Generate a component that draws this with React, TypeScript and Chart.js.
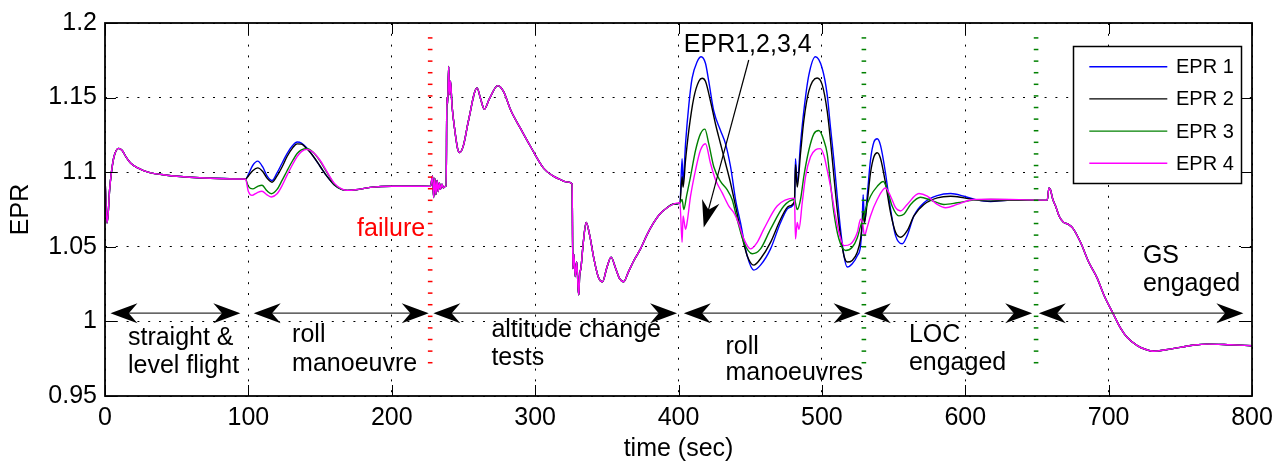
import React, { useEffect, useRef } from 'react';
import { Chart, registerables } from 'chart.js';

Chart.register(...registerables);

const FONT = "'Liberation Sans', Arial, Helvetica, sans-serif";

const xTicks = [0, 100, 200, 300, 400, 500, 600, 700, 800];
const yTicks = [0.95, 1, 1.05, 1.1, 1.15, 1.2];
const yTickLabels = ['0.95', '1', '1.05', '1.1', '1.15', '1.2'];

const seriesNames = ['EPR 1', 'EPR 2', 'EPR 3', 'EPR 4'];
const seriesColors = ['#0000ff', '#000000', '#008000', '#ff00ff'];

type P = [number, number];

// common to all engines: 0–98 s
const commonStart: P[] = [
  [0, 1.098], [0.6, 1.08], [1.4, 1.066], [2.2, 1.072], [3.2, 1.088], [4.5, 1.1], [6.3, 1.1105],
  [9.5, 1.116], [12, 1.1145], [14.5, 1.1105], [18, 1.106], [22.5, 1.103], [30, 1.1], [43, 1.098],
  [66, 1.0963], [96, 1.0954],
];

// first roll manoeuvre
const epr1Roll1: P[] = [
  [98, 1.0953], [100, 1.0985], [103, 1.1045], [106.5, 1.1074], [110, 1.1035], [113, 1.0975],
  [116.5, 1.0944], [120, 1.0995], [123.5, 1.106], [127, 1.1125], [131, 1.118], [134, 1.1202],
  [137, 1.1195], [141, 1.116], [145, 1.111], [150, 1.104], [155, 1.097], [160, 1.0915],
  [165, 1.0885], [169, 1.0878],
];
const epr2Roll1: P[] = [
  [98, 1.0953], [100, 1.0975], [103, 1.101], [106.5, 1.1029], [110, 1.1005], [113, 1.096],
  [116.5, 1.0933], [120, 1.0975], [123.5, 1.1035], [127, 1.1105], [131, 1.1165], [134, 1.119],
  [137, 1.1188], [141, 1.1155], [145, 1.111], [150, 1.104], [155, 1.097], [160, 1.0915],
  [165, 1.0885], [169, 1.0878],
];
const epr3Roll1: P[] = [
  [98, 1.0953], [100, 1.0905], [103, 1.0888], [106.5, 1.0905], [109.5, 1.0913], [113, 1.0875],
  [116, 1.0856], [120, 1.0885], [123.5, 1.0945], [127, 1.101], [131, 1.108], [134, 1.1125],
  [137, 1.115], [141, 1.1157], [145, 1.1135], [150, 1.1075], [155, 1.0995], [160, 1.092],
  [165, 1.0885], [169, 1.0878],
];
const epr4Roll1: P[] = [
  [98, 1.0953], [100, 1.087], [102.5, 1.0845], [106, 1.0862], [109.5, 1.0872], [113, 1.0848],
  [116, 1.0834], [120, 1.0855], [123.5, 1.091], [127, 1.098], [131, 1.1055], [134, 1.1105],
  [137, 1.1138], [141, 1.1153], [145, 1.1135], [150, 1.108], [155, 1.1], [160, 1.0925],
  [165, 1.0888], [169, 1.0878],
];
const rollSettle: P[] = [[175, 1.0882], [185, 1.0898], [200, 1.0906], [215, 1.0906]];

// failure and altitude change tests (common)
const commonAltitude: P[] = [
  [227, 1.0905], [228.5, 1.0975], [229.2, 1.083], [230, 1.096], [230.8, 1.085], [231.6, 1.0945],
  [232.4, 1.087], [233.2, 1.093], [234, 1.0885], [235, 1.092], [236, 1.0895], [237.3, 1.0905],
  [238, 1.0905], [238.4, 1.15], [239, 1.146], [239.7, 1.1708], [240.3, 1.152], [241, 1.161],
  [242, 1.145], [244, 1.128], [246, 1.1155], [247.4, 1.1131], [250, 1.118], [253.5, 1.1345],
  [259.5, 1.1565], [262, 1.149], [264.6, 1.1422], [268, 1.149], [274, 1.158], [278, 1.154],
  [283, 1.1415], [290, 1.129], [297, 1.1169], [306, 1.1026], [313, 1.0972], [318, 1.0949],
  [322, 1.0935], [325.8, 1.0922], [326.3, 1.0354], [327, 1.045], [328, 1.03], [329, 1.04],
  [330, 1.022], [330.5, 1.0178], [331, 1.03], [332, 1.036], [333.5, 1.052], [335.6, 1.0663],
  [338, 1.058], [341, 1.042], [344, 1.03], [347, 1.0266], [350, 1.036], [353, 1.0431],
  [356, 1.036], [359, 1.0285], [361.8, 1.0266], [365, 1.033], [369, 1.041], [373.5, 1.0486],
  [378, 1.058], [382.8, 1.0663], [387, 1.072], [392, 1.0762], [396, 1.0785],
];

// roll manoeuvres
const epr1Roll2: P[] = [
  [401, 1.0795], [402.5, 1.109], [403.2, 1.0927], [404.9, 1.119], [407.2, 1.145], [409.5, 1.163],
  [413, 1.174], [415.8, 1.1774], [418.8, 1.173], [421.1, 1.161], [424.6, 1.141], [429.3, 1.128],
  [432.8, 1.119], [436.3, 1.1037], [439.8, 1.0817], [443.2, 1.0663], [447.9, 1.044],
  [452.5, 1.0344], [457.2, 1.0377], [464.2, 1.0486], [471.2, 1.0663], [477, 1.0762],
  [480.9, 1.08], [481.6, 1.109], [482.8, 1.0927], [485.1, 1.119], [487.4, 1.141], [490.9, 1.165],
  [495.5, 1.1774], [500.2, 1.1697], [503.7, 1.152], [506, 1.13], [508.4, 1.108], [510.7, 1.0839],
  [513, 1.0618], [515.4, 1.044], [517.7, 1.0365], [521.2, 1.0387], [524.7, 1.044], [527, 1.0509],
];
const epr2Roll2: P[] = [
  [401, 1.0795], [402.5, 1.097], [403.2, 1.09], [404.9, 1.108], [407.2, 1.128], [410.7, 1.15],
  [414.2, 1.161], [416.5, 1.163], [418.8, 1.161], [422.3, 1.1477], [425.8, 1.1323],
  [429.3, 1.1191], [432.8, 1.106], [436.3, 1.0927], [439.8, 1.0773], [443.2, 1.0618],
  [447.9, 1.044], [452.5, 1.0377], [457.2, 1.042], [464.2, 1.053], [471.2, 1.0685], [477, 1.0773],
  [480.9, 1.0806], [481.6, 1.105], [482.8, 1.09], [485.1, 1.1125], [487.4, 1.1345],
  [490.9, 1.1543], [496.7, 1.1631], [500.2, 1.1587], [503.7, 1.1411], [506, 1.1213],
  [508.4, 1.0971], [510.7, 1.075], [513, 1.0574], [515.4, 1.044], [517.7, 1.0398],
  [521.2, 1.0409], [524.7, 1.0464], [527, 1.0553],
];
const epr3Roll2: P[] = [
  [401, 1.0795], [402.5, 1.0817], [403.7, 1.075], [405.6, 1.0839], [408.4, 1.0971],
  [411.9, 1.1147], [415.3, 1.1257], [418.4, 1.1289], [421.1, 1.1191], [424.6, 1.1037],
  [429.3, 1.0938], [433.9, 1.0883], [437.4, 1.0817], [440.9, 1.0685], [445.6, 1.053],
  [451.4, 1.0453], [457.2, 1.0486], [464.2, 1.0618], [473.5, 1.0773], [480.9, 1.0817],
  [482.8, 1.075], [485.1, 1.0817], [487.4, 1.0971], [490.9, 1.1147], [494.4, 1.1257],
  [497.9, 1.1279], [501.4, 1.1213], [503.7, 1.1125], [506, 1.0927], [508.4, 1.0728],
  [511.9, 1.0552], [516.5, 1.0475], [521.2, 1.0497], [524.7, 1.056], [527, 1.064],
];
const epr4Roll2: P[] = [
  [401, 1.0795], [402.5, 1.053], [403.2, 1.0707], [404.9, 1.0618], [406, 1.0663],
  [408.4, 1.0839], [411.9, 1.1015], [415.3, 1.1147], [418.8, 1.1191], [422.3, 1.106],
  [425.8, 1.0949], [430.5, 1.0861], [435.1, 1.0773], [438.6, 1.0728], [442.1, 1.0652],
  [445.6, 1.0552], [450.2, 1.0486], [454.9, 1.053], [459.5, 1.0618], [468.8, 1.0773],
  [480.9, 1.0826], [481.6, 1.0552], [482.8, 1.0663], [484, 1.0618], [486.3, 1.0795],
  [488.6, 1.0971], [492.1, 1.1103], [495.5, 1.115], [499, 1.1158], [501.5, 1.111],
  [503.7, 1.1015], [506, 1.0905], [509.5, 1.0707], [511.9, 1.0596], [515.4, 1.0508],
  [520, 1.0519], [524.7, 1.0596], [527, 1.0685],
];

// LOC engaged
const epr1Loc: P[] = [
  [528.1, 1.0663], [528.8, 1.085], [529.7, 1.0663], [531.6, 1.0839], [533.9, 1.1081],
  [536.3, 1.1202], [538.6, 1.1224], [540.9, 1.118], [544.4, 1.0993], [547.9, 1.0751],
  [551.4, 1.0575], [556, 1.052], [559.5, 1.0575], [564.2, 1.0707], [571.2, 1.0795],
  [580.5, 1.0843], [589.8, 1.0857], [599.1, 1.0839], [608.4, 1.0813], [617.7, 1.0804],
  [629.3, 1.0811], [657.2, 1.0813],
];
const epr2Loc: P[] = [
  [528.1, 1.065], [528.8, 1.073], [529.7, 1.0663], [531.6, 1.0795], [533.9, 1.0993],
  [536.3, 1.1103], [538.6, 1.113], [540.9, 1.1092], [544.4, 1.0927], [547.9, 1.0729],
  [551.4, 1.0597], [554.9, 1.0564], [559.5, 1.0608], [564.2, 1.0707], [571.2, 1.0784],
  [580.5, 1.0828], [589.8, 1.0839], [599.1, 1.0828], [608.4, 1.0813], [617.7, 1.0806],
  [629.3, 1.0811], [657.2, 1.0813],
];
const epr3Loc: P[] = [
  [528.4, 1.068], [529.7, 1.072], [530.4, 1.0751], [533.9, 1.0839], [538.6, 1.0905],
  [542.8, 1.0938], [545.6, 1.0883], [549, 1.0773], [553.7, 1.0707], [557.2, 1.0718],
  [561.9, 1.0784], [568.8, 1.0832], [575.8, 1.0813], [585.1, 1.0784], [594.4, 1.0795],
  [606, 1.0813], [617.7, 1.0817], [657.2, 1.0813],
];
const epr4Loc: P[] = [
  [528.4, 1.066], [529.7, 1.0575], [531.6, 1.063], [533.9, 1.0707], [538.6, 1.0817],
  [544.4, 1.0894], [547.9, 1.0839], [551.4, 1.0762], [554.9, 1.074], [559.5, 1.0784],
  [567.7, 1.0857], [573.5, 1.0839], [580.5, 1.0784], [586.3, 1.0762], [594.4, 1.0784],
  [606, 1.0817], [617.7, 1.0819], [657.2, 1.0813],
];

// GS engaged (common)
const commonEnd: P[] = [
  [658.4, 1.0895], [659.5, 1.088], [661, 1.082], [663, 1.0773], [665.5, 1.0705], [668.5, 1.0665],
  [672, 1.065], [675, 1.0625], [680.4, 1.053], [686, 1.04], [692, 1.029], [697, 1.017],
  [703, 1.0055], [708, 0.996], [713, 0.9892], [720, 0.9838], [725, 0.9815], [731.6, 0.98],
  [740, 0.981], [750, 0.9826], [760, 0.9842], [768.8, 0.9848], [785, 0.9843], [800, 0.9837],
];

const seriesData: P[][] = [
  [...commonStart, ...epr1Roll1, ...rollSettle, ...commonAltitude, ...epr1Roll2, ...epr1Loc, ...commonEnd],
  [...commonStart, ...epr2Roll1, ...rollSettle, ...commonAltitude, ...epr2Roll2, ...epr2Loc, ...commonEnd],
  [...commonStart, ...epr3Roll1, ...rollSettle, ...commonAltitude, ...epr3Roll2, ...epr3Loc, ...commonEnd],
  [...commonStart, ...epr4Roll1, ...rollSettle, ...commonAltitude, ...epr4Roll2, ...epr4Loc, ...commonEnd],
];

// annotations (data coordinates)
const phaseArrows: P[] = [[3.8, 94.4], [103.7, 225.8], [229, 399], [403.7, 527], [529.3, 646.7], [651.3, 794]];
const phaseArrowLevel = 1.0055;
const phaseLabels: { text: string; t: number; v: number; color: string }[] = [
  { text: 'straight &', t: 16, v: 0.9845, color: '#000' },
  { text: 'level flight', t: 16, v: 0.9652, color: '#000' },
  { text: 'roll', t: 130.5, v: 0.9865, color: '#000' },
  { text: 'manoeuvre', t: 130.5, v: 0.9667, color: '#000' },
  { text: 'failure', t: 175.8, v: 1.0575, color: '#ff0000' },
  { text: 'altitude change', t: 269.5, v: 0.9894, color: '#000' },
  { text: 'tests', t: 269.5, v: 0.9705, color: '#000' },
  { text: 'roll', t: 432.8, v: 0.978, color: '#000' },
  { text: 'manoeuvres', t: 432.8, v: 0.9606, color: '#000' },
  { text: 'LOC', t: 560.7, v: 0.9859, color: '#000' },
  { text: 'engaged', t: 560.7, v: 0.9672, color: '#000' },
  { text: 'GS', t: 723.9, v: 1.0392, color: '#000' },
  { text: 'engaged', t: 723.9, v: 1.0201, color: '#000' },
  { text: 'EPR1,2,3,4', t: 403.7, v: 1.1805, color: '#000' },
];
const pointerFrom: P = [449, 1.1752];
const pointerTo: P = [417.6, 1.063];
const eventLines: { t: number; color: string }[] = [
  { t: 226.8, color: '#ff0000' },
  { t: 529.3, color: '#008000' },
  { t: 649.4, color: '#008000' },
];
const eventRange: P = [0.969, 1.19];

function arrowHead(ctx: CanvasRenderingContext2D, tx: number, ty: number, dx: number, dy: number, L: number, W: number) {
  const len = Math.hypot(dx, dy);
  const ux = dx / len, uy = dy / len;
  const nx = -uy, ny = ux;
  ctx.beginPath();
  ctx.moveTo(tx, ty);
  ctx.lineTo(tx - ux * L + nx * W, ty - uy * L + ny * W);
  ctx.lineTo(tx - ux * L * 0.68, ty - uy * L * 0.68);
  ctx.lineTo(tx - ux * L - nx * W, ty - uy * L - ny * W);
  ctx.closePath();
  ctx.fill();
}

const annotPlugin = {
  id: 'annot',
  afterDatasetsDraw(chart: any) {
    const ctx: CanvasRenderingContext2D = chart.ctx;
    const xs = chart.scales.x, ys = chart.scales.y;
    ctx.save();
    // event markers
    for (const ev of eventLines) {
      const px = xs.getPixelForValue(ev.t);
      const top = ys.getPixelForValue(eventRange[1]);
      const bot = ys.getPixelForValue(eventRange[0]);
      ctx.fillStyle = ev.color;
      for (let py = top; py <= bot + 0.5; py += 11.6) {
        ctx.fillRect(px - 2.3, py - 0.75, 4.6, 1.5);
      }
    }
    // phase arrows
    const ay = ys.getPixelForValue(phaseArrowLevel);
    for (const [a, b] of phaseArrows) {
      const x1 = xs.getPixelForValue(a), x2 = xs.getPixelForValue(b);
      ctx.strokeStyle = '#333';
      ctx.lineWidth = 1.3;
      ctx.beginPath();
      ctx.moveTo(x1 + 10, ay);
      ctx.lineTo(x2 - 10, ay);
      ctx.stroke();
      ctx.fillStyle = '#000';
      arrowHead(ctx, x1, ay, -1, 0, 27, 10);
      arrowHead(ctx, x2, ay, 1, 0, 27, 10);
    }
    // pointer arrow
    const fx = xs.getPixelForValue(pointerFrom[0]), fy = ys.getPixelForValue(pointerFrom[1]);
    const tx = xs.getPixelForValue(pointerTo[0]), ty = ys.getPixelForValue(pointerTo[1]);
    ctx.strokeStyle = '#000';
    ctx.lineWidth = 1.2;
    ctx.beginPath();
    ctx.moveTo(fx, fy);
    ctx.lineTo(tx + (fx - tx) * 0.1, ty + (fy - ty) * 0.1);
    ctx.stroke();
    ctx.fillStyle = '#000';
    arrowHead(ctx, tx, ty, tx - fx, ty - fy, 27, 9);
    // labels
    ctx.font = `25px ${FONT}`;
    ctx.textAlign = 'left';
    ctx.textBaseline = 'alphabetic';
    for (const lb of phaseLabels) {
      ctx.fillStyle = lb.color;
      ctx.fillText(lb.text, xs.getPixelForValue(lb.t), ys.getPixelForValue(lb.v));
    }
    ctx.restore();
  },
  afterDraw(chart: any) {
    const ctx: CanvasRenderingContext2D = chart.ctx;
    const a = chart.chartArea;
    const xs = chart.scales.x, ys = chart.scales.y;
    ctx.save();
    // ticks inward
    ctx.strokeStyle = '#000';
    ctx.lineWidth = 1;
    ctx.beginPath();
    for (const t of xTicks) {
      const px = Math.round(xs.getPixelForValue(t)) + 0.5;
      ctx.moveTo(px, a.bottom); ctx.lineTo(px, a.bottom - 11);
      ctx.moveTo(px, a.top); ctx.lineTo(px, a.top + 11);
    }
    for (const v of yTicks) {
      const py = Math.round(ys.getPixelForValue(v)) + 0.5;
      ctx.moveTo(a.left, py); ctx.lineTo(a.left + 11, py);
      ctx.moveTo(a.right, py); ctx.lineTo(a.right - 11, py);
    }
    ctx.stroke();
    // box
    ctx.lineWidth = 1.8;
    ctx.strokeRect(a.left, a.top, a.right - a.left, a.bottom - a.top);
    // legend
    const lx = 1073.5, ly = 46.5, lw = 168, lh = 137;
    ctx.fillStyle = '#fff';
    ctx.fillRect(lx, ly, lw, lh);
    ctx.lineWidth = 1.5;
    ctx.strokeStyle = '#000';
    ctx.strokeRect(lx, ly, lw, lh);
    ctx.font = `20px ${FONT}`;
    ctx.textBaseline = 'middle';
    ctx.textAlign = 'left';
    seriesNames.forEach((name, i) => {
      const ry = 66.7 + i * 32.2;
      ctx.strokeStyle = seriesColors[i];
      ctx.lineWidth = 1.4;
      ctx.beginPath();
      ctx.moveTo(1089.3, ry);
      ctx.lineTo(1167.3, ry);
      ctx.stroke();
      ctx.fillStyle = '#000';
      ctx.fillText(name, 1176, ry + 1);
    });
    ctx.restore();
  },
};

export default function App() {
  const ref = useRef<HTMLCanvasElement>(null);
  useEffect(() => {
    const canvas = ref.current!;
    const chart = new Chart(canvas, {
      type: 'line',
      data: {
        datasets: seriesData.map((d, i) => ({
          label: seriesNames[i],
          data: d.map(([x, y]) => ({ x, y })),
          borderColor: seriesColors[i],
          backgroundColor: seriesColors[i],
          borderWidth: 1.4,
          pointRadius: 0,
          fill: false,
          cubicInterpolationMode: 'monotone' as const,
          order: 3 - i,
        })),
      },
      options: {
        responsive: false,
        animation: false,
        devicePixelRatio: 1,
        layout: { padding: { left: 0, top: 17, right: 36, bottom: 0 } },
        plugins: { legend: { display: false }, tooltip: { enabled: false } },
        scales: {
          x: {
            type: 'linear',
            min: 0,
            max: 800,
            afterBuildTicks: (s: any) => { s.ticks = xTicks.map((v) => ({ value: v })); },
            afterFit: (s: any) => { s.height = 72; },
            grid: { color: '#000', lineWidth: 1, drawTicks: false },
            border: { display: false, dash: [2, 8.8] },
            ticks: { padding: 7, color: '#000', font: { family: FONT, size: 25 }, maxRotation: 0, callback: (v: any) => String(v) },
            title: { display: true, text: 'time (sec)', color: '#000', font: { family: FONT, size: 25 }, padding: { top: 0, bottom: 4 } },
          },
          y: {
            type: 'linear',
            min: 0.95,
            max: 1.2,
            afterBuildTicks: (s: any) => { s.ticks = yTicks.map((v) => ({ value: v })); },
            afterFit: (s: any) => { s.width = 105; },
            grid: { color: '#000', lineWidth: 1, drawTicks: false },
            border: { display: false, dash: [2, 8.8] },
            ticks: { padding: 8, color: '#000', font: { family: FONT, size: 25 }, callback: (_v: any, i: number) => yTickLabels[i] },
            title: { display: true, text: 'EPR', color: '#000', font: { family: FONT, size: 25 }, padding: { top: 6, bottom: 0 } },
          },
        },
      },
      plugins: [annotPlugin],
    } as any);
    return () => chart.destroy();
  }, []);
  return (
    <div style={{ position: 'fixed', left: 0, top: 0, width: 1288, height: 468, background: '#fff' }}>
      <canvas ref={ref} width={1288} height={468} style={{ display: 'block' }} />
    </div>
  );
}
